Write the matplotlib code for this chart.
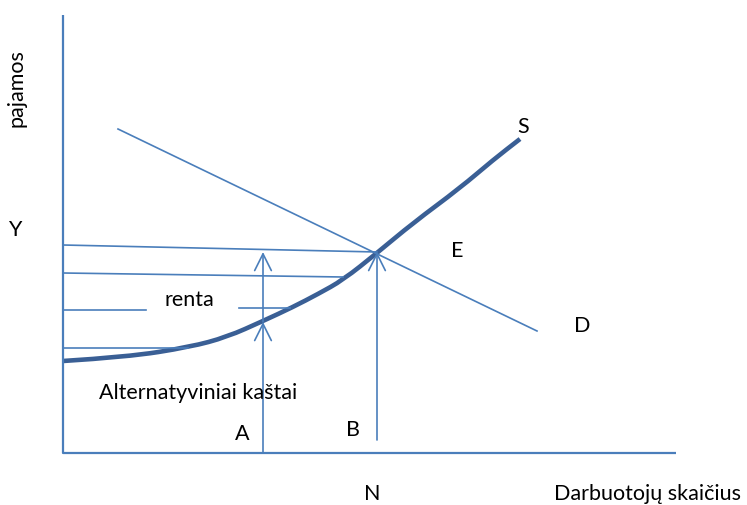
import matplotlib
matplotlib.use("Agg")
import matplotlib.pyplot as plt
from matplotlib.path import Path
from matplotlib.patches import PathPatch

# ---- data (diagram geometry in pixel units of the reference) ----
axis_x = [63, 63, 676]
axis_y = [15, 453, 453]

demand_x = [118, 537]
demand_y = [129, 331]

supply_x = [63, 127, 190, 227, 263, 293, 318, 343, 377, 413, 460, 493, 520]
supply_y = [361, 357, 347, 337, 321, 307, 294, 280, 253, 223, 188, 160, 139]

# horizontal guide segments: (x0, y0, x1, y1)
guides_x0 = [63, 63, 63, 239, 63]
guides_y0 = [245, 273, 310, 308, 348]
guides_x1 = [377, 343, 146, 290, 188]
guides_y1 = [252, 277, 310, 308, 348]

# vertical arrows: (x, y_start, y_end)
arrows_x = [263, 263, 377]
arrows_y0 = [453, 322, 440]
arrows_y1 = [322, 252, 252]

labels = ["pajamos", "Y", "S", "E", "D", "renta", "Alternatyviniai kaštai",
          "A", "B", "N", "Darbuotojų skaičius"]
labels_x = [17, 15, 523, 457, 582, 189, 198, 242, 353, 372, 648]
labels_y = [88, 230, 127, 251, 326, 300, 393, 434, 430, 494, 494]

blue = "#4a7ebb"
dark = "#3a5f95"

fig = plt.figure(figsize=(7.47, 5.05), dpi=100)
ax = fig.add_axes([0, 0, 1, 1])
ax.set_xlim(0, 747)
ax.set_ylim(505, 0)
ax.axis("off")

ax.plot(axis_x, axis_y, color=blue, lw=1.6, solid_capstyle="butt")
ax.plot(demand_x, demand_y, color=blue, lw=1.2)
for x0, y0, x1, y1 in zip(guides_x0, guides_y0, guides_x1, guides_y1):
    ax.plot([x0, x1], [y0, y1], color=blue, lw=1.2)
for x, y0, y1 in zip(arrows_x, arrows_y0, arrows_y1):
    ax.annotate("", xy=(x, y1), xytext=(x, y0),
                arrowprops=dict(arrowstyle="->,head_length=1.2,head_width=0.6",
                                color=blue, lw=1.2, shrinkA=0, shrinkB=0))

# smooth supply curve: quadratic Bezier through midpoints of the read points
pts = list(zip(supply_x, supply_y))
verts = [pts[0]]
codes = [Path.MOVETO]
for i in range(1, len(pts) - 1):
    mid = ((pts[i][0] + pts[i + 1][0]) / 2, (pts[i][1] + pts[i + 1][1]) / 2)
    verts += [pts[i], mid]
    codes += [Path.CURVE3, Path.CURVE3]
verts.append(pts[-1])
codes.append(Path.LINETO)
ax.add_patch(PathPatch(Path(verts, codes), facecolor="none", edgecolor=dark,
                       lw=3.3, capstyle="butt", joinstyle="round"))

fam = ["Lato", "DejaVu Sans"]
for t, x, y in zip(labels, labels_x, labels_y):
    rot = 90 if t == "pajamos" else 0
    ax.text(x, y, t, ha="center", va="center", fontsize=15.5, family=fam,
            rotation=rot, color="black")

fig.savefig("out.png", dpi=100)
